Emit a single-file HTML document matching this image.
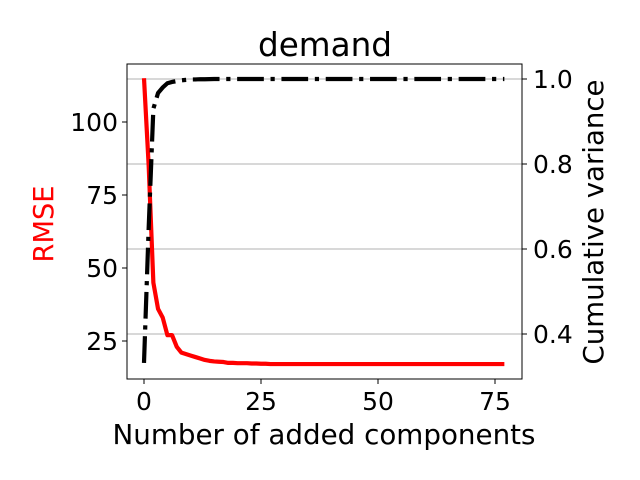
<!DOCTYPE html>
<html><head><meta charset="utf-8"><style>
body{margin:0;background:#fff;}
svg{display:block;font-family:"DejaVu Sans","Liberation Sans",sans-serif;}
</style></head><body>
<svg id="chart" width="640" height="480" viewBox="0 0 640 480" xmlns="http://www.w3.org/2000/svg"></svg>
<script>
const components = Array.from({length:78},(_,i)=>i);
const rmseValues = [115,85,45,36,33,27,27,23,21,20.5,20,19.5,19,18.5,18.2,18,17.9,17.8,17.5,17.5,17.4,17.4,17.4,17.3,17.3,17.2,17.2,17.1,17.1,17.1,17.1];
const varianceValues = [0.332,0.65,0.93,0.967,0.98,0.99,0.993,0.995,0.997,0.998,0.999,0.999,0.9995,0.9995,0.9997,1.0];
const xTicks = [0,25,50,75];
const yLeftTicks = [25,50,75,100];
const yRightTicks = [0.4,0.6,0.8,1.0];
const rightTickLabels = ["0.4","0.6","0.8","1.0"];

const NS="http://www.w3.org/2000/svg";
const svg=document.getElementById('chart');
const L=127,R=522,T=64,B=379;
const xs=v=>144+(v-0)*(351/75);
const yl=v=>122+(100-v)*(219/75);
const yr=v=>79+(1-v)*425;
function mk(tag,attrs,parent){const e=document.createElementNS(NS,tag);for(const k in attrs)e.setAttribute(k,attrs[k]);(parent||svg).appendChild(e);return e;}
const rmse=components.map(i=>i<rmseValues.length?rmseValues[i]:rmseValues[rmseValues.length-1]);
const vari=components.map(i=>i<varianceValues.length?varianceValues[i]:varianceValues[varianceValues.length-1]);

yRightTicks.forEach((v,i)=>{
  const g=mk('line',{x1:L,x2:R,y1:yr(v),y2:yr(v),stroke:'#b0b0b0','stroke-width':1});
  
  
});
const rl=mk('polyline',{points:components.map(i=>xs(i)+','+yl(rmse[i])).join(' '),fill:'none',stroke:'#ff0000','stroke-width':4.2,'stroke-linejoin':'round'});


const vl=mk('polyline',{points:components.map(i=>xs(i)+','+yr(vari[i])).join(' '),fill:'none',stroke:'#000','stroke-width':4.2,'stroke-dasharray':'26.7 6.7 4.2 6.7'});


const fr=mk('rect',{x:L,y:T,width:R-L,height:B-T,fill:'none',stroke:'#000','stroke-width':1});


const FS=25;
xTicks.forEach(v=>{
  mk('line',{x1:xs(v),x2:xs(v),y1:B,y2:B+5,stroke:'#000'});
  const t=mk('text',{x:xs(v),y:B+31,'font-size':FS,'text-anchor':'middle'});t.textContent=v;
  
  
});
yLeftTicks.forEach(v=>{
  mk('line',{x1:L-5,x2:L,y1:yl(v),y2:yl(v),stroke:'#000'});
  const t=mk('text',{x:L-9,y:yl(v)+9,'font-size':FS,'text-anchor':'end'});t.textContent=v;
  
  
});
yRightTicks.forEach((v,i)=>{
  mk('line',{x1:R,x2:R+5,y1:yr(v),y2:yr(v),stroke:'#000'});
  const t=mk('text',{x:R+11,y:yr(v)+9,'font-size':FS,'text-anchor':'start'});t.textContent=rightTickLabels[i];
  
  
});
const title=mk('text',{x:325,y:56,'font-size':33,'text-anchor':'middle',textLength:134,lengthAdjust:'spacingAndGlyphs'});title.textContent='demand';


const xl=mk('text',{x:324,y:444,'font-size':28,'text-anchor':'middle',textLength:423,lengthAdjust:'spacingAndGlyphs'});xl.textContent='Number of added components';


const ylab=mk('text',{x:0,y:0,'font-size':28,'text-anchor':'middle',fill:'#ff0000',transform:'translate(53,224) rotate(-90)',textLength:77,lengthAdjust:'spacingAndGlyphs'});ylab.textContent='RMSE';


const yrl=mk('text',{x:0,y:0,'font-size':28,'text-anchor':'middle',transform:'translate(603,222) rotate(-90)',textLength:285,lengthAdjust:'spacingAndGlyphs'});yrl.textContent='Cumulative variance';


</script>
</body></html>
